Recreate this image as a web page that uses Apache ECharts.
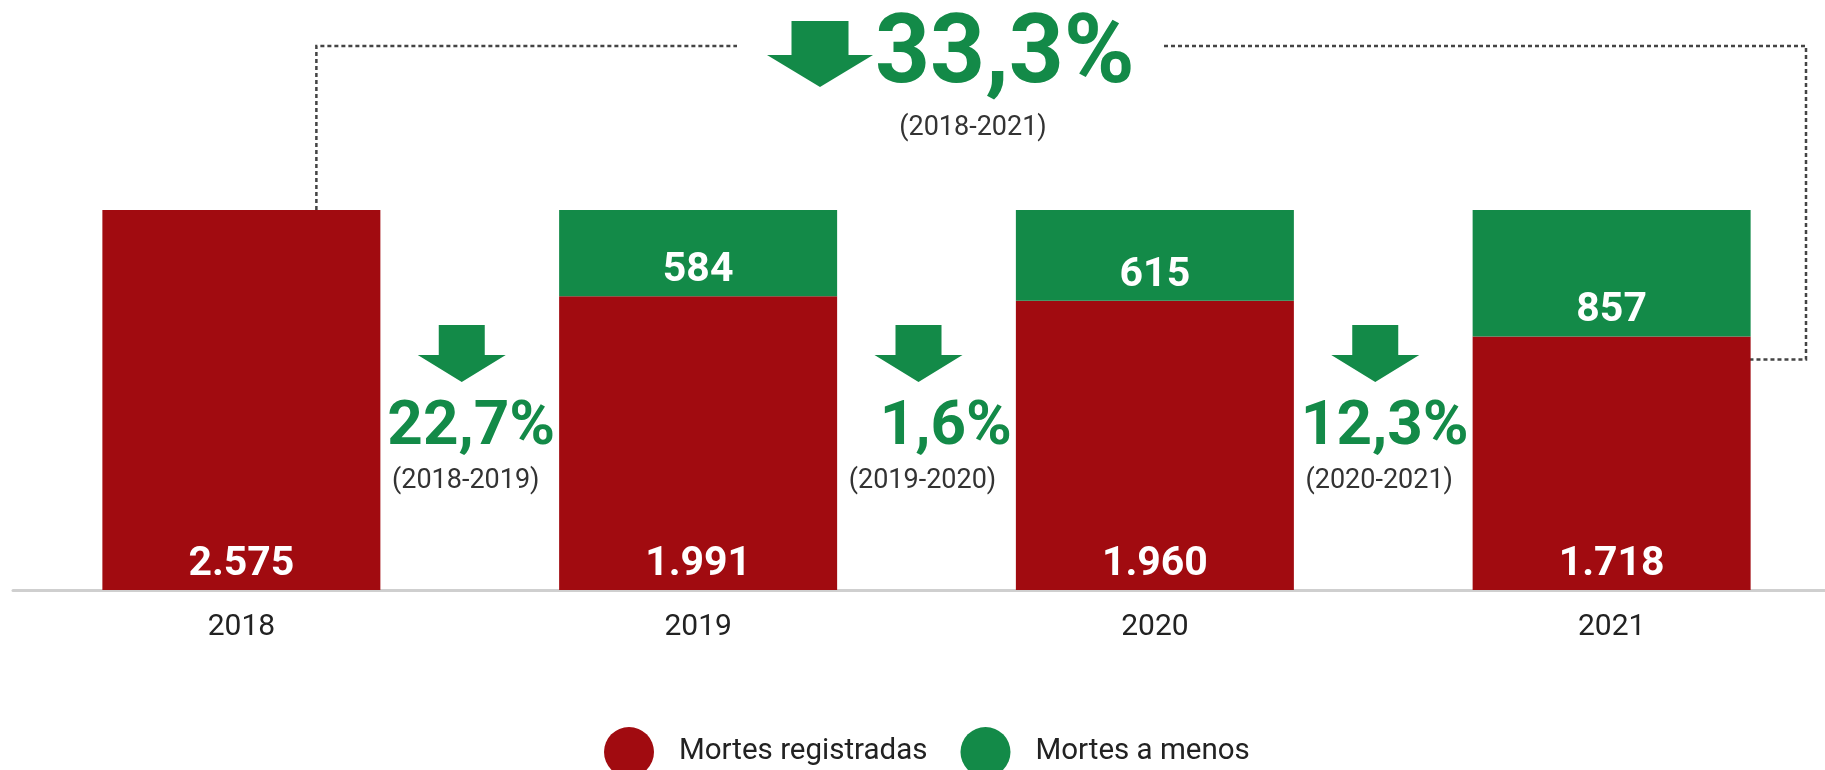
<!DOCTYPE html>
<html>
<head>
<meta charset="utf-8">
<script src="https://cdn.jsdelivr.net/npm/echarts@6/dist/echarts.min.js"></script>
<style>
html,body{margin:0;padding:0;background:#fff;}
#chart{width:1825px;height:770px;}
</style>
</head>
<body>
<div id="chart"></div>
<script>
// ---- data ----
const years = ['2018', '2019', '2020', '2021'];
const registradas = [2575, 1991, 1960, 1718];
const aMenos = [null, 584, 615, 857];
const periods = ['(2018-2019)', '(2019-2020)', '(2020-2021)'];
const totalPeriod = '(2018-2021)';
const seriesNames = ['Mortes registradas', 'Mortes a menos'];

const RED = '#A10B10';
const GREEN = '#138A48';
const FONT = 'Roboto';

function fmtNum(v) {
  return String(v).replace(/\B(?=(\d{3})+(?!\d))/g, '.');
}
function pct(a, b) {
  return (Math.round((a - b) / a * 1000) / 10).toFixed(1).replace('.', ',') + '%';
}
const stepPct = [pct(registradas[0], registradas[1]), pct(registradas[1], registradas[2]), pct(registradas[2], registradas[3])];
const totalPct = pct(registradas[0], registradas[3]);

const chart = echarts.init(document.getElementById('chart'), null, {renderer: 'canvas'});

const labelStyle = {
  show: true,
  position: 'insideBottom',
  distance: 5,
  color: '#fff',
  fontFamily: FONT,
  fontWeight: 'bold',
  fontSize: 41,
  formatter: p => (p.value == null ? '' : fmtNum(p.value))
};

chart.setOption({
  animation: false,
  grid: {left: 13, width: 1827, top: 210, bottom: 180, outerBoundsMode: 'none', containLabel: false},
  xAxis: {
    type: 'category',
    data: years,
    axisLine: {lineStyle: {color: '#cfcfcf', width: 3}},
    axisTick: {show: false},
    axisLabel: {fontFamily: FONT, fontSize: 30, color: '#222', margin: 22}
  },
  yAxis: {type: 'value', min: 0, max: 2575, show: false, splitLine: {show: false}},
  legend: {
    data: seriesNames,
    left: 599,
    top: 722,
    icon: 'circle',
    itemWidth: 50,
    itemHeight: 50,
    itemGap: 33,
    textStyle: {fontFamily: FONT, fontSize: 29.5, color: '#222', padding: [0, 0, 0, 20]}
  },
  series: [
    {
      name: seriesNames[0], type: 'bar', stack: 'a', data: registradas,
      barWidth: 278, itemStyle: {color: RED}, label: labelStyle
    },
    {
      name: seriesNames[1], type: 'bar', stack: 'a', data: aMenos,
      barWidth: 278, itemStyle: {color: GREEN}, label: labelStyle
    }
  ]
});

function downArrow(cx, top, shaftW, headStart, headW, tip) {
  return {
    type: 'polygon',
    shape: {points: [
      [cx - shaftW / 2, top], [cx + shaftW / 2, top], [cx + shaftW / 2, headStart],
      [cx + headW / 2, headStart], [cx, tip], [cx - headW / 2, headStart],
      [cx - shaftW / 2, headStart]
    ]},
    style: {fill: GREEN}
  };
}

const px = (i, v) => chart.convertToPixel({seriesIndex: 0}, [i, v]);
const graphics = [];

// between-bar annotations
for (let i = 0; i < 3; i++) {
  const x0 = px(i, 0)[0], x1 = px(i + 1, 0)[0];
  const mid = (x0 + x1) / 2;
  const nextBarLeft = x1 - 139;
  graphics.push(downArrow(mid - 8, 325, 46, 355, 88, 382));
  graphics.push({type: 'text', x: nextBarLeft - 4, y: 428, style: {
    text: stepPct[i], fill: GREEN, font: 'bold 62px ' + FONT, textAlign: 'right', textVerticalAlign: 'middle'}});
  graphics.push({type: 'text', x: mid - 4, y: 481, style: {
    text: periods[i], fill: '#333', font: '27px ' + FONT, textAlign: 'center', textVerticalAlign: 'middle'}});
}

// top annotation
graphics.push(downArrow(820, 21, 57, 55, 106, 87));
graphics.push({type: 'text', x: 875, y: 58, style: {
  text: totalPct, fill: GREEN, font: 'bold 96px ' + FONT, textAlign: 'left', textVerticalAlign: 'middle'}});
graphics.push({type: 'text', x: 973, y: 128, style: {
  text: totalPeriod, fill: '#333', font: '27px ' + FONT, textAlign: 'center', textVerticalAlign: 'middle'}});

// dashed connector
const pStart = px(0, registradas[0]);
const pEnd = px(3, registradas[3]);
const lineY = 46;
const startX = pStart[0] + 75;
const endX = pEnd[0] + 129;
const rightX = 1806;
const dash = {stroke: '#444', lineWidth: 2.5, lineDash: [4, 3], fill: null};
graphics.push({type: 'polyline', shape: {points: [[startX, pStart[1]], [startX, lineY], [737, lineY]]}, style: dash});
graphics.push({type: 'polyline', shape: {points: [[1164, lineY], [rightX, lineY], [rightX, pEnd[1] + 23], [endX, pEnd[1] + 23]]}, style: dash});

chart.setOption({graphic: graphics});
</script>
</body>
</html>
